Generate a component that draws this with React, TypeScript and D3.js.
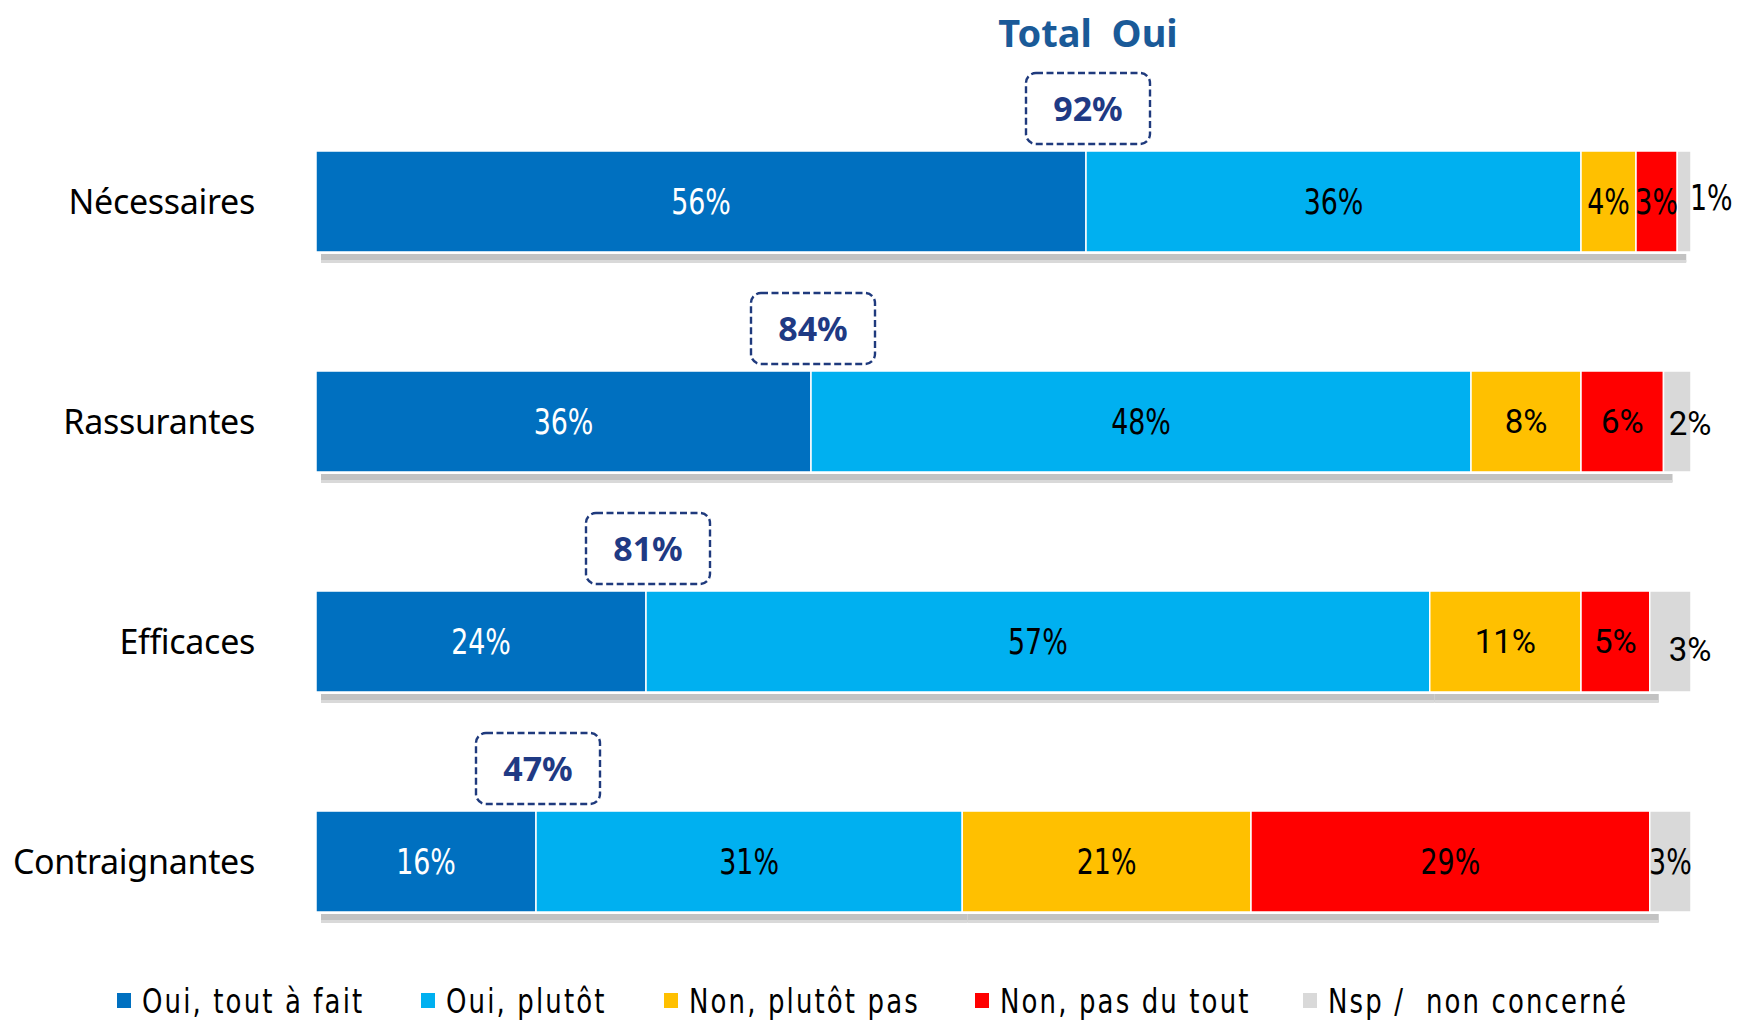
import React from "react";
import * as d3 from "d3";

const categories = ["Nécessaires", "Rassurantes", "Efficaces", "Contraignantes"];
const seriesNames = ["Oui, tout à fait", "Oui, plutôt", "Non, plutôt pas", "Non, pas du tout", "Nsp /  non concerné"];
const ouiToutAFait = [56, 36, 24, 16];
const ouiPlutot = [36, 48, 57, 31];
const nonPlutotPas = [4, 8, 11, 21];
const nonPasDuTout = [3, 6, 5, 29];
const nsp = [1, 2, 3, 3];
const totalOui = [92, 84, 81, 47];
const seriesColors = ["#0070C0", "#00B0F0", "#FFC000", "#FF0000", "#D9D9D9"];
const labelColors = ["#FFFFFF", "#000000", "#000000", "#000000", "#000000"];

const W = 1739;
const H = 1024;
const COND = "'DejaVu Sans Condensed', 'DejaVu Sans', sans-serif";
const SANS = "'Noto Sans', 'Open Sans', sans-serif";
const WIDE = "Roboto, 'Open Sans', sans-serif";

const keys = ["a", "b", "c", "d", "e"];
const rows = categories.map((c, i) => ({
  cat: c,
  a: ouiToutAFait[i],
  b: ouiPlutot[i],
  c: nonPlutotPas[i],
  d: nonPasDuTout[i],
  e: nsp[i],
  total: totalOui[i],
}));

function CText(props: {
  x: number;
  y: number;
  sx?: number;
  anchor?: "start" | "middle" | "end";
  size: number;
  fill: string;
  family?: string;
  weight?: string;
  ls?: number;
  children: React.ReactNode;
}) {
  const sx = props.sx ?? 0.83;
  return (
    <text
      transform={`translate(${props.x},${props.y}) scale(${sx},1)`}
      dy="0.36em"
      textAnchor={props.anchor ?? "middle"}
      fontFamily={props.family ?? COND}
      fontSize={props.size}
      fontWeight={props.weight ?? "normal"}
      letterSpacing={props.ls ?? 0}
      fill={props.fill}
      style={{ whiteSpace: "pre" }}
    >
      {props.children}
    </text>
  );
}

export default function App() {
  const x = d3.scaleLinear().domain([0, 100]).range([316, 1691]);
  const y = d3
    .scaleBand<string>()
    .domain(categories)
    .range([151, 912])
    .paddingInner(0.541)
    .paddingOuter(0);
  const bh = y.bandwidth();
  const stack = d3.stack<any>().keys(keys);
  const layers = stack(rows as any);

  const wideRows = new Set(["Rassurantes", "Efficaces"]);

  return (
    <svg
      width={W}
      height={H}
      style={{ position: "absolute", left: 0, top: 0, background: "#fff" }}
    >
      {/* Title */}
      <text
        x={x(56) + 2}
        y={33}
        dy="0.36em"
        textAnchor="middle"
        fontFamily={SANS}
        fontSize={38}
        fontWeight="bold"
        fill="#1A5A98"
        style={{ whiteSpace: "pre" }}
      >
        {"Total  Oui"}
      </text>

      {/* Shadows */}
      {layers.slice(0, 4).map((layer, li) =>
        layer.map((d: any, i: number) => {
          const cat = categories[i];
          const y0 = (y(cat) as number) + bh;
          const x0 = x(d[0]) + 5;
          const x1 = x(d[1]) + (li === 3 ? 10 : 6);
          return (
            <g key={`sh-${li}-${i}`}>
              <rect x={x0} y={y0 + 2} width={Math.max(0, x1 - x0 - 1)} height={8} fill="#C2C2C2" />
              <rect x={x0} y={y0 + 8} width={Math.max(0, x1 - x0 - 1)} height={3} fill="#D9D9D9" />
            </g>
          );
        })
      )}

      {/* Bars */}
      {layers.map((layer, li) =>
        layer.map((d: any, i: number) => {
          const cat = categories[i];
          return (
            <rect
              key={`b-${li}-${i}`}
              x={x(d[0])}
              y={y(cat) as number}
              width={x(d[1]) - x(d[0])}
              height={bh}
              fill={seriesColors[li]}
              stroke="#FFFFFF"
              strokeWidth={1.5}
            />
          );
        })
      )}

      {/* Segment labels */}
      {layers.map((layer, li) =>
        layer.map((d: any, i: number) => {
          const cat = categories[i];
          const v = d[1] - d[0];
          const cy = (y(cat) as number) + bh / 2;
          let lx = (x(d[0]) + x(d[1])) / 2;
          let anchor: "middle" | "start" = "middle";
          let dy = 0;
          if (li === 4) {
            if (i === 0) {
              lx = x(d[1]) - 1;
              anchor = "start";
              dy = -4;
            } else if (i === 1 || i === 2) {
              lx = x(d[1]) - 1;
              dy = i === 2 ? 8 : 2;
            }
          }
          const wide = wideRows.has(cat) && li >= 2;
          return wide ? (
            <CText key={`l-${li}-${i}`} x={lx} y={cy + dy} sx={1} anchor={anchor} size={33} family={WIDE} fill={labelColors[li]}>
              {`${v}%`}
            </CText>
          ) : (
            <CText key={`l-${li}-${i}`} x={lx} y={cy + dy} anchor={anchor} size={36} fill={labelColors[li]}>
              {`${v}%`}
            </CText>
          );
        })
      )}

      {/* Category labels */}
      {categories.map((c) => (
        <text
          key={`c-${c}`}
          x={255}
          y={(y(c) as number) + bh / 2}
          dy="0.36em"
          textAnchor="end"
          fontFamily={SANS}
          fontSize={34}
          letterSpacing={-0.3}
          fill="#000"
        >
          {c}
        </text>
      ))}

      {/* Total Oui boxes */}
      {rows.map((r) => {
        const cx = x(r.a) + 2;
        const top = (y(r.cat) as number) - 78;
        return (
          <g key={`t-${r.cat}`}>
            <rect
              x={cx - 62}
              y={top}
              width={124}
              height={71}
              rx={10}
              fill="#fff"
              stroke="#1F3A7D"
              strokeWidth={2.4}
              strokeDasharray="7 3.5"
            />
            <text
              x={cx}
              y={top + 36}
              dy="0.36em"
              textAnchor="middle"
              fontFamily={SANS}
              fontSize={34}
              fontWeight="bold"
              fill="#1F3A84"
            >
              {`${r.total}%`}
            </text>
          </g>
        );
      })}

      {/* Legend */}
      {seriesNames.map((s, i) => {
        const lxs = [117, 421, 664, 975, 1303];
        const lx = lxs[i];
        return (
          <g key={`lg-${i}`}>
            <rect x={lx} y={993} width={14} height={15} fill={seriesColors[i]} />
            <CText x={lx + 25} y={1001} anchor="start" size={34} sx={0.85} ls={2.5} fill="#000">
              {s}
            </CText>
          </g>
        );
      })}
    </svg>
  );
}
